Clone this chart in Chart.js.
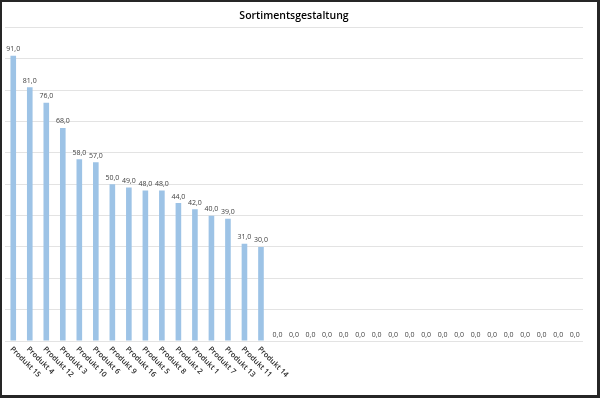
<!DOCTYPE html>
<html>
<head>
<meta charset="utf-8">
<script src="https://cdn.jsdelivr.net/npm/chart.js@4"></script>
<style>
  html, body { margin: 0; padding: 0; background: #fff; }
  #box { width: 600px; height: 398px; box-sizing: border-box; border: 2px solid #262626; border-right-width: 3px; border-bottom-width: 3px; }
  #myChart { display: block; }
</style>
</head>
<body>
<div id="box"><canvas id="myChart" width="595" height="393"></canvas></div>
<script>
let produkte = ['Produkt 15', 'Produkt 4', 'Produkt 12', 'Produkt 3', 'Produkt 10', 'Produkt 6',
    'Produkt 9', 'Produkt 16', 'Produkt 5', 'Produkt 8', 'Produkt 2', 'Produkt 1',
    'Produkt 7', 'Produkt 13', 'Produkt 11', 'Produkt 14',
    '', '', '', '', '', '', '', '', '', '', '', '', '', '', '', '', '', '', ''];
let werte = [91, 81, 76, 68, 58, 57, 50, 49, 48, 48, 44, 42, 40, 39, 31, 30,
    0, 0, 0, 0, 0, 0, 0, 0, 0, 0, 0, 0, 0, 0, 0, 0, 0, 0, 0];
let yTicks = [0, 10, 20, 30, 40, 50, 60, 70, 80, 90, 100];

// value labels above the bars, "91,0" style
let wertLabels = {
    id: 'wertLabels',
    afterDatasetsDraw(chart) {
        let ctx = chart.ctx;
        let meta = chart.getDatasetMeta(0);
        ctx.save();
        ctx.font = '7px "Open Sans", sans-serif';
        ctx.fillStyle = '#404040';
        ctx.textAlign = 'center';
        ctx.textBaseline = 'bottom';
        meta.data.forEach((bar, i) => {
            let txt = werte[i].toFixed(1).replace('.', ',');
            ctx.fillText(txt, bar.x, bar.y - 3);
        });
        ctx.restore();
    }
};

// category labels rotated 45deg clockwise, starting at the tick
let schraegLabels = {
    id: 'schraegLabels',
    afterDraw(chart) {
        let ctx = chart.ctx;
        let xs = chart.scales.x;
        let bottom = chart.chartArea.bottom;
        ctx.save();
        ctx.font = '600 7.5px "Open Sans", sans-serif';
        ctx.fillStyle = '#262626';
        ctx.textAlign = 'left';
        ctx.textBaseline = 'middle';
        produkte.forEach((lab, i) => {
            if (!lab) return;
            ctx.save();
            ctx.translate(xs.getPixelForTick(i) - 2, bottom + 7);
            ctx.rotate(Math.PI / 4);
            ctx.fillText(lab, 0, 0);
            ctx.restore();
        });
        ctx.restore();
    }
};

let sortChart = new Chart(document.getElementById('myChart').getContext('2d'), {
    type: 'bar',
    data: {
        labels: produkte,
        datasets: [{
            label: 'Sortiment',
            data: werte,
            backgroundColor: '#9DC3E6',
            borderWidth: 0,
            barPercentage: 0.34,
            categoryPercentage: 1.0
        }]
    },
    options: {
        responsive: false,
        animation: false,
        events: [],
        layout: { padding: { left: 3, right: 14, top: 2, bottom: 46 } },
        plugins: {
            legend: { display: false },
            tooltip: { enabled: false },
            title: {
                display: true,
                text: 'Sortimentsgestaltung',
                color: '#000',
                font: { family: '"Open Sans", sans-serif', size: 10.5, weight: '600' },
                padding: { top: 6, bottom: 5 }
            }
        },
        scales: {
            x: {
                grid: { display: false },
                border: { display: false },
                ticks: { display: false }
            },
            y: {
                min: 0,
                max: 100,
                afterBuildTicks(axis) { axis.ticks = yTicks.map(v => ({ value: v })); },
                grid: { color: '#E3E3E3', lineWidth: 1, drawTicks: false },
                border: { display: false },
                ticks: { display: false }
            }
        }
    },
    plugins: [wertLabels, schraegLabels]
});
</script>
</body>
</html>
